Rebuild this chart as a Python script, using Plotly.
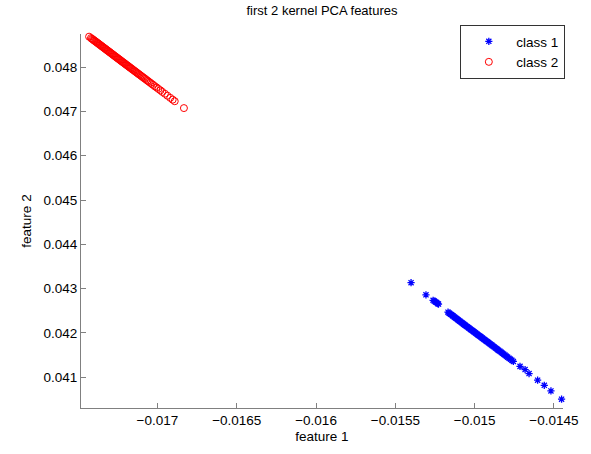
import plotly.graph_objects as go

# first two kernel PCA features, per class
class1_f1 = [
    -0.015401, -0.015307, -0.015262, -0.015255, -0.015247, -0.015240, -0.015233, -0.015228,
    -0.015168, -0.015162, -0.015157, -0.015151, -0.015146, -0.015140, -0.015135, -0.015129,
    -0.015124, -0.015118, -0.015113, -0.015107, -0.015102, -0.015096, -0.015091, -0.015085,
    -0.015080, -0.015074, -0.015069, -0.015063, -0.015058, -0.015052, -0.015047, -0.015041,
    -0.015036, -0.015030, -0.015025, -0.015019, -0.015014, -0.015008, -0.015003, -0.014997,
    -0.014992, -0.014986, -0.014981, -0.014975, -0.014970, -0.014964, -0.014959, -0.014953,
    -0.014948, -0.014942, -0.014937, -0.014931, -0.014926, -0.014920, -0.014914, -0.014908,
    -0.014902, -0.014896, -0.014890, -0.014883, -0.014876, -0.014869, -0.014862, -0.014855,
    -0.014848, -0.014840, -0.014832, -0.014824, -0.014816, -0.014808, -0.014800, -0.014792,
    -0.014783, -0.014774, -0.014765, -0.014756, -0.014714, -0.014682, -0.014657, -0.014603,
    -0.014561, -0.014519, -0.014452,
]
class1_f2 = [
    0.043133, 0.042860, 0.042735, 0.042718, 0.042700, 0.042688, 0.042662, 0.042650,
    0.042467, 0.042449, 0.042440, 0.042420, 0.042410, 0.042390, 0.042380, 0.042360,
    0.042348, 0.042330, 0.042320, 0.042300, 0.042288, 0.042270, 0.042258, 0.042240,
    0.042228, 0.042212, 0.042197, 0.042181, 0.042168, 0.042150, 0.042140, 0.042122,
    0.042108, 0.042093, 0.042078, 0.042064, 0.042050, 0.042034, 0.042022, 0.042004,
    0.041991, 0.041976, 0.041960, 0.041946, 0.041932, 0.041916, 0.041904, 0.041886,
    0.041874, 0.041857, 0.041844, 0.041828, 0.041813, 0.041798, 0.041781, 0.041766,
    0.041749, 0.041732, 0.041718, 0.041698, 0.041679, 0.041660, 0.041642, 0.041622,
    0.041604, 0.041583, 0.041560, 0.041538, 0.041517, 0.041496, 0.041473, 0.041452,
    0.041428, 0.041404, 0.041380, 0.041356, 0.041244, 0.041171, 0.041082, 0.040933,
    0.040816, 0.040689, 0.040504,
]

class2_f1 = [
    -0.017431, -0.017419, -0.017413, -0.017407, -0.017402, -0.017397, -0.017392, -0.017387,
    -0.017382, -0.017377, -0.017372, -0.017367, -0.017362, -0.017357, -0.017352, -0.017347,
    -0.017342, -0.017337, -0.017332, -0.017327, -0.017322, -0.017317, -0.017312, -0.017307,
    -0.017302, -0.017297, -0.017292, -0.017287, -0.017282, -0.017277, -0.017272, -0.017267,
    -0.017262, -0.017257, -0.017252, -0.017247, -0.017242, -0.017237, -0.017232, -0.017227,
    -0.017222, -0.017217, -0.017212, -0.017207, -0.017202, -0.017197, -0.017192, -0.017187,
    -0.017182, -0.017177, -0.017172, -0.017167, -0.017161, -0.017155, -0.017149, -0.017143,
    -0.017137, -0.017131, -0.017125, -0.017119, -0.017113, -0.017106, -0.017099, -0.017092,
    -0.017085, -0.017078, -0.017070, -0.017062, -0.017054, -0.017045, -0.017036, -0.017027,
    -0.017017, -0.017006, -0.016994, -0.016981, -0.016969, -0.016953, -0.016937, -0.016919,
    -0.016904, -0.016891, -0.016833,
]
class2_f2 = [
    0.048689, 0.048658, 0.048640, 0.048626, 0.048609, 0.048598, 0.048583, 0.048572,
    0.048556, 0.048545, 0.048530, 0.048518, 0.048502, 0.048491, 0.048475, 0.048464,
    0.048448, 0.048436, 0.048421, 0.048410, 0.048394, 0.048382, 0.048367, 0.048356,
    0.048340, 0.048328, 0.048314, 0.048300, 0.048286, 0.048274, 0.048259, 0.048246,
    0.048232, 0.048219, 0.048205, 0.048192, 0.048178, 0.048165, 0.048150, 0.048138,
    0.048124, 0.048111, 0.048097, 0.048084, 0.048070, 0.048057, 0.048043, 0.048030,
    0.048016, 0.048003, 0.047990, 0.047976, 0.047960, 0.047943, 0.047928, 0.047911,
    0.047895, 0.047880, 0.047862, 0.047847, 0.047830, 0.047812, 0.047793, 0.047774,
    0.047755, 0.047737, 0.047714, 0.047694, 0.047671, 0.047648, 0.047622, 0.047600,
    0.047570, 0.047543, 0.047509, 0.047476, 0.047441, 0.047400, 0.047355, 0.047307,
    0.047266, 0.047231, 0.047076,
]

x_ticks = [-0.017, -0.0165, -0.016, -0.0155, -0.015, -0.0145]
x_tick_text = ["\u22120.017", "\u22120.0165", "\u22120.016", "\u22120.0155", "\u22120.015", "\u22120.0145"]
y_ticks = [0.041, 0.042, 0.043, 0.044, 0.045, 0.046, 0.047, 0.048]
y_tick_text = ["0.041", "0.042", "0.043", "0.044", "0.045", "0.046", "0.047", "0.048"]

FONT = "Liberation Sans, Arial, Helvetica, sans-serif"
AXIS_GREY = "#808080"
FS = 13.5

fig = go.Figure()
fig.add_trace(go.Scatter(
    x=class1_f1, y=class1_f2, mode="markers", name="class 1", cliponaxis=False,
    marker=dict(symbol="asterisk-open", size=6, color="#0000ff",
                line=dict(color="#0000ff", width=1.3)),
))
fig.add_trace(go.Scatter(
    x=class2_f1, y=class2_f2, mode="markers", name="class 2", cliponaxis=False,
    marker=dict(symbol="circle-open", size=7, color="#ff0000",
                line=dict(color="#ff0000", width=1)),
))

axis_common = dict(
    showline=True, linecolor=AXIS_GREY, linewidth=1,
    ticks="inside", ticklen=5, tickcolor=AXIS_GREY, tickwidth=1,
    showgrid=False, zeroline=False, mirror=False,
    tickfont=dict(family=FONT, size=FS, color="#000000"),
)

fig.update_layout(
    width=591, height=454,
    margin=dict(l=81, r=26, t=34, b=40),
    paper_bgcolor="white", plot_bgcolor="white",
    font=dict(family=FONT, size=FS, color="#000000"),
    title=dict(text="first 2 kernel PCA features", x=0.5, xref="paper",
               y=1 - 10 / 454, yref="container", yanchor="middle",
               font=dict(family=FONT, size=13, color="#000000")),
    xaxis=dict(range=[-0.017482, -0.014443], tickvals=x_ticks, ticktext=x_tick_text,
               title=dict(text="feature 1", standoff=4,
                          font=dict(family=FONT, size=FS, color="#000000")),
               **axis_common),
    yaxis=dict(range=[0.040304, 0.048749], tickvals=y_ticks, ticktext=y_tick_text,
               title=dict(text="feature 2", standoff=8,
                          font=dict(family=FONT, size=FS, color="#000000")),
               **axis_common),
    legend=dict(x=0.787, y=1.024, xanchor="left", yanchor="top",
                bgcolor="white", bordercolor="#333333", borderwidth=1,
                itemwidth=45, font=dict(family=FONT, size=FS, color="#000000"),
                tracegroupgap=0),
    showlegend=True,
)

fig.write_html("out.html")
